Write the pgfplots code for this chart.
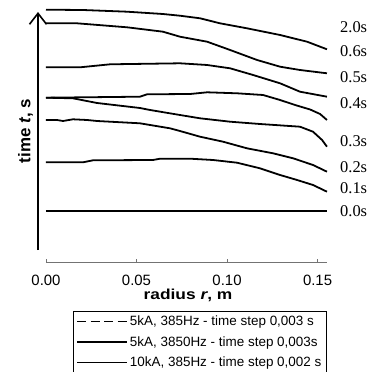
\documentclass[border=0pt]{standalone}
\usepackage{pgfplots}
\pgfplotsset{compat=1.18}
\usepackage{fontspec}
\setmainfont{Liberation Sans}
\newfontfamily\serif{Liberation Serif}
\usetikzlibrary{arrows.meta}

\begin{document}
\begin{tikzpicture}
\begin{axis}[
  scale only axis, width=280.6bp, height=262bp,
  xmin=0, xmax=0.155, ymin=0, ymax=262,
  enlargelimits=false, clip=false,
  axis x line*=bottom, axis y line=none,
  x axis line style={draw=black!55, line width=0.7pt},
  xtick={0,0.05,0.10,0.15},
  xticklabels={0.00,0.05,0.10,0.15},
  ytick=\empty,
  tick align=inside,
  major tick length=3.5bp,
  xtick style={draw=black!55, line width=0.7pt},
  xticklabel style={anchor=north, inner sep=0pt, yshift=-13bp, font=\fontsize{15}{17}\selectfont},
  /pgf/number format/assume math mode=true,
  xlabel={\scalebox{1.2}[1]{\bfseries radius \textit{r}, m}},
  xlabel style={at={(axis description cs:0.506,-0.1425)}, anchor=base, inner sep=0pt, font=\fontsize{14.5}{16}\selectfont},
  legend style={at={(axis description cs:0.0962,-0.187)}, anchor=north west,
    draw=black, line width=0.8pt, font=\fontsize{13.5}{15}\selectfont,
    inner xsep=3bp, inner ysep=0bp, row sep=0bp,
    nodes={inner xsep=2bp, inner ysep=4.6bp}},
  legend cell align=left,
  legend image code/.code={\draw[#1] (0bp,0bp) -- (50bp,0bp);},
]
% curves
\addplot[black, line width=1.8pt, forget plot] coordinates {
(0,252.3)(0.0204,252)(0.0448,250.3)(0.0646,248)(0.0740,246.3)(0.0851,243.7)(0.0961,238.7)(0.1110,233.7)(0.1293,227)(0.1442,220.3)(0.1552,212.7)};
\addplot[black, line width=1.8pt, forget plot] coordinates {
(0,238.7)(0.0171,238.7)(0.0448,234.7)(0.0646,230.3)(0.0740,225.3)(0.0890,220.3)(0.1017,212)(0.1166,202)(0.1293,195.3)(0.1403,192)(0.1552,188.7)};
\addplot[black, line width=1.8pt, forget plot] coordinates {
(0,194.7)(0.0188,194.7)(0.0354,197.7)(0.0740,198.7)(0.0890,197)(0.1017,193.7)(0.1144,187)(0.1293,178.7)(0.1403,170.3)(0.1552,165.3)};
\addplot[black, line width=1.8pt, forget plot] coordinates {
(0,164.3)(0.0519,165.3)(0.0558,167.7)(0.0796,168)(0.0890,169.7)(0.1055,168.7)(0.1199,167)(0.1293,162)(0.1376,157)(0.1459,152.5)(0.1514,148)(0.1552,142)};
\addplot[black, line width=1.8pt, forget plot] coordinates {
(0,164.3)(0.0149,163.7)(0.0282,159)(0.0519,154)(0.0575,152)(0.0740,147)(0.0851,143.7)(0.1017,140.3)(0.1182,138)(0.1403,135.3)(0.1475,130.3)(0.1525,122)(0.1552,115.3)};
\addplot[black, line width=1.8pt, forget plot] coordinates {
(0,142)(0.0061,142)(0.0094,141)(0.0149,142.7)(0.0227,142)(0.0282,141)(0.0519,138.7)(0.0685,133.7)(0.0740,131)(0.0851,125.3)(0.0978,120.3)(0.1110,113.7)(0.1254,108.7)(0.1365,103.7)(0.1475,97)(0.1552,90.3)};
\addplot[black, line width=1.8pt, forget plot] coordinates {
(0,99.7)(0.0204,99.7)(0.0260,101.7)(0.0591,102)(0.0630,103.3)(0.0796,103.3)(0.0923,102)(0.1055,99.3)(0.1182,93.7)(0.1293,87)(0.1387,82)(0.1475,77)(0.1552,70.3)};
\addplot[black, line width=1.8pt, forget plot] coordinates {
(0,51)(0.1552,51)};
% legend entries
\addlegendimage{black, line width=1.3pt, dash pattern=on 9bp off 4.5bp}
\addlegendentry{5kA, 385Hz - time step 0,003 s}
\addlegendimage{black, line width=1.6pt}
\addlegendentry{5kA, 3850Hz - time step 0,003s}
\addlegendimage{black, line width=0.6pt}
\addlegendentry{10kA, 385Hz - time step 0,002 s}
% y axis arrow
\draw[line width=1.6pt, -{Straight Barb[length=11bp,width=17bp,line width=1.6pt]}] (axis cs:-0.00442,12) -- (axis cs:-0.00442,250);
\node[rotate=90, font=\fontsize{17}{19}\selectfont\bfseries] at (axis description cs:-0.0731,0.5) {time \textit{t}, s};
% time labels
\begin{scope}[every node/.style={anchor=west, inner sep=0pt, font=\serif\fontsize{16.5}{18}\selectfont}]
\node at (axis cs:0.1624,235) {2.0s};
\node at (axis cs:0.1624,211) {0.6s};
\node at (axis cs:0.1624,185) {0.5s};
\node at (axis cs:0.1624,158.5) {0.4s};
\node at (axis cs:0.1624,121) {0.3s};
\node at (axis cs:0.1624,94.5) {0.2s};
\node at (axis cs:0.1624,73.5) {0.1s};
\node at (axis cs:0.1624,51) {0.0s};
\end{scope}
\end{axis}
\pgfresetboundingbox
\useasboundingbox (-46bp,-110bp) rectangle (331bp,262bp);
\end{tikzpicture}
\end{document}
